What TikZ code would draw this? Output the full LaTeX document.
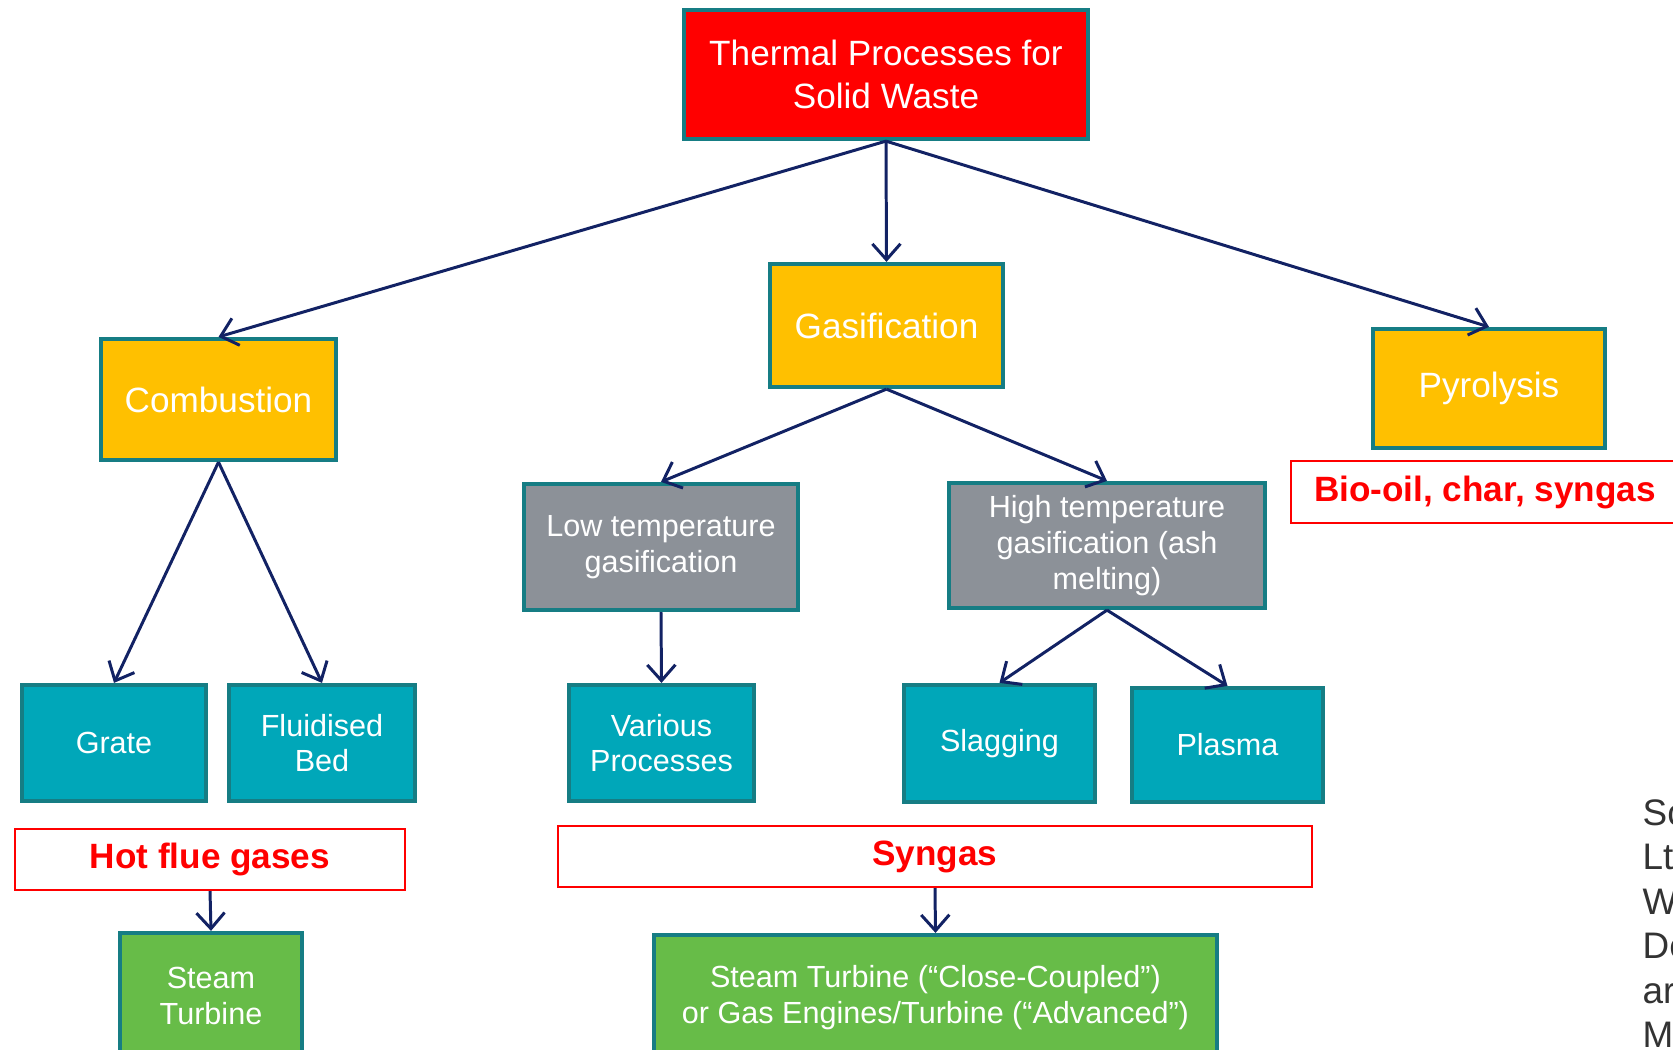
\documentclass[tikz,border=0pt]{standalone}
\usepackage{fontspec}
\setmainfont{Liberation Sans}
\usetikzlibrary{arrows.meta}
\definecolor{edgeteal}{RGB}{22,125,132}
\definecolor{boxred}{RGB}{255,0,0}
\definecolor{boxorange}{RGB}{255,192,0}
\definecolor{boxgray}{RGB}{140,145,152}
\definecolor{boxteal}{RGB}{0,167,185}
\definecolor{boxgreen}{RGB}{103,188,72}
\definecolor{linknavy}{RGB}{18,34,100}
\definecolor{notegray}{RGB}{51,51,51}

\begin{document}
\begin{tikzpicture}[x=1cm,y=-1cm,
  box/.style={draw=edgeteal, line width=1.2pt, text=white, align=center, inner sep=0pt},
  bigfont/.style={font=\fontsize{10}{12.2}\selectfont},
  smallfont/.style={font=\fontsize{8.7}{10.2}\selectfont},
  topbox/.style={box, bigfont, fill=boxred},
  midbox/.style={box, bigfont, fill=boxorange},
  lowbox/.style={box, smallfont, fill=boxgray},
  leafbox/.style={box, smallfont, fill=boxteal},
  endbox/.style={box, smallfont, fill=boxgreen},
  outbox/.style={draw=red, line width=0.6pt, fill=white, text=red, inner sep=0pt, font=\bfseries\fontsize{10}{12}\selectfont},
  link/.style={draw=linknavy, line width=0.85pt, -{Straight Barb[length=4.5pt,width=8pt]}}
]
\useasboundingbox (0,0) rectangle (16.73,10.50);

\begin{scope}
\node[topbox, minimum width=4.04cm, minimum height=1.29cm] (thermal) at (8.86,0.745) {Thermal Processes for\\Solid Waste};
\node[midbox, minimum width=2.35cm, minimum height=1.21cm] (combustion) at (2.185,3.995) {Combustion};
\node[midbox, minimum width=2.33cm, minimum height=1.23cm] (gasification) at (8.865,3.255) {Gasification};
\node[midbox, minimum width=2.32cm, minimum height=1.19cm] (pyrolysis) at (14.89,3.885) {Pyrolysis};
\node[outbox, minimum width=3.88cm, minimum height=0.62cm] (biooil) at (14.85,4.92) {Bio-oil, char, syngas};
\end{scope}

\begin{scope}
\node[lowbox, minimum width=2.74cm, minimum height=1.26cm] (lowtemp) at (6.61,5.47) {Low temperature\\gasification};
\node[lowbox, minimum width=3.16cm, minimum height=1.25cm] (hightemp) at (11.07,5.455) {High temperature\\gasification (ash\\melting)};
\end{scope}

\begin{scope}
\node[leafbox, minimum width=1.84cm, minimum height=1.16cm] (grate) at (1.14,7.43) {Grate};
\node[leafbox, minimum width=1.86cm, minimum height=1.16cm] (fluidised) at (3.22,7.43) {Fluidised\\Bed};
\node[leafbox, minimum width=1.85cm, minimum height=1.16cm] (various) at (6.615,7.43) {Various\\Processes};
\node[leafbox, minimum width=1.91cm, minimum height=1.17cm] (slagging) at (9.995,7.435) {Slagging};
\node[leafbox, minimum width=1.91cm, minimum height=1.14cm] (plasma) at (12.275,7.45) {Plasma};
\end{scope}

\begin{scope}
\node[outbox, minimum width=3.90cm, minimum height=0.61cm] (hotflue) at (2.10,8.595) {Hot flue gases};
\node[outbox, minimum width=7.54cm, minimum height=0.61cm] (syngas) at (9.35,8.565) {Syngas};
\node[endbox, minimum width=1.82cm, minimum height=1.26cm] (steam) at (2.11,9.96) {Steam\\Turbine};
\node[endbox, minimum width=5.63cm, minimum height=1.26cm] (engines) at (9.355,9.98) {Steam Turbine (“Close-Coupled”)\\or Gas Engines/Turbine (“Advanced”)};
\end{scope}

\node[anchor=north west, inner sep=0pt, align=left, text=notegray, font=\fontsize{10.5}{12.65}\selectfont] (source) at (16.42,7.99) {Sc\\Lt\\W\\De\\ar\\M};

\draw[link] (thermal.south) -- (combustion.north);
\draw[link] (thermal.south) -- (gasification.north);
\draw[link] (thermal.south) -- (pyrolysis.north);
\draw[link] (gasification.south) -- (lowtemp.north);
\draw[link] (gasification.south) -- (hightemp.north);
\draw[link] (combustion.south) -- (grate.north);
\draw[link] (combustion.south) -- (fluidised.north);
\draw[link] (lowtemp.south) -- (various.north);
\draw[link] (hightemp.south) -- (slagging.north);
\draw[link] (hightemp.south) -- (plasma.north);
\draw[link] (hotflue.south) -- (steam.north);
\draw[link] (syngas.south) -- (engines.north);
\end{tikzpicture}
\end{document}
